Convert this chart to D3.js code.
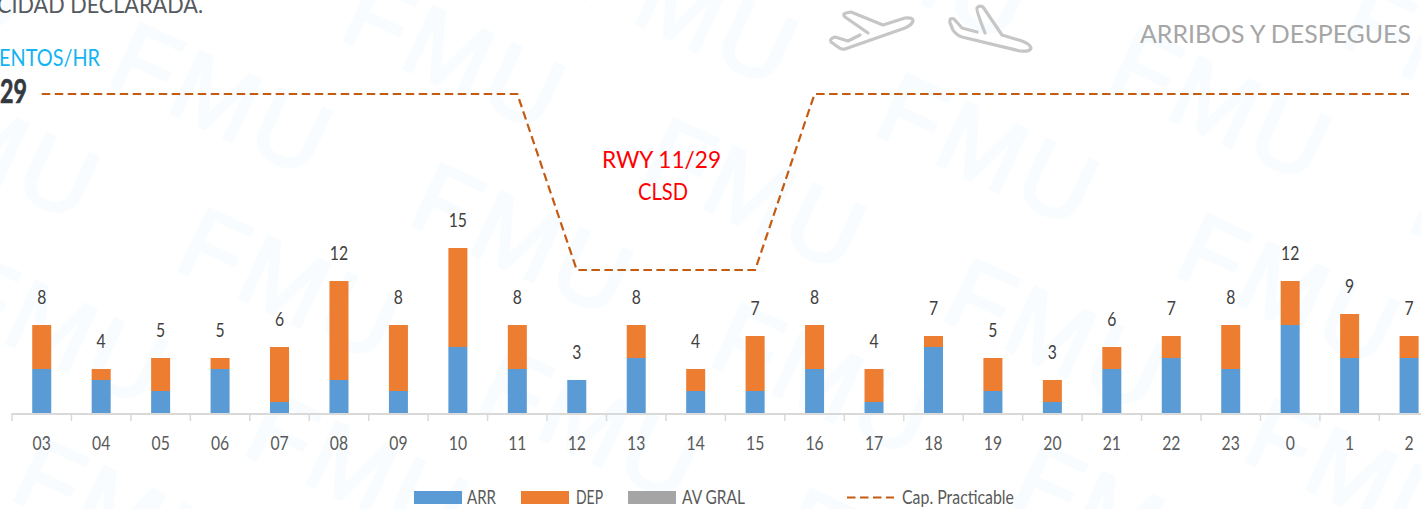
<!DOCTYPE html>
<html lang="en">
<head>
<meta charset="UTF-8"/>
<title>Arribos y despegues</title>
<script src="https://d3js.org/d3.v7.min.js"></script>
<style>
	html, body{ margin:0; padding:0; background:#fff; overflow:hidden; }
	svg{ display:block; }
	text{ font-family:Lato,"Open Sans",sans-serif; }
</style>
</head>
<body>
<script>
var hours = ["03","04","05","06","07","08","09","10","11","12","13","14","15","16","17","18","19","20","21","22","23","0","1","2"];
var arrivals = [4,3,2,4,1,3,2,6,4,3,5,2,2,4,1,6,2,1,4,5,4,8,5,5];
var departures = [4,1,3,1,5,9,6,9,4,0,3,2,5,4,3,1,3,2,2,2,4,4,4,2];
var capacity = [29,29,29,29,29,29,29,29,29,13,13,13,13,29,29,29,29,29,29,29,29,29,29,29];
var legendNames = ["ARR","DEP","AV GRAL"];

var w = 1421;
var h = 509;
var baseY = 413;

var svg = d3.select("body").append("svg").attr("width", w).attr("height", h);

// squeeze text sideways, the original is a stretched picture of Calibri
function fit(sel, width){
	sel.attr("lengthAdjust", "spacingAndGlyphs").attr("textLength", width);
}
function squeeze(sel, factor){
	sel.each(function(){
		d3.select(this).call(fit, this.getComputedTextLength() * factor);
	});
}

// faint FMU watermark, one tile repeated along a slanted lattice
var tileW = 332;
var tileH = 139;
var slant = 140 / 139;
var tile = svg.append("defs").append("pattern")
	.attr("id", "fmu")
	.attr("patternUnits", "userSpaceOnUse")
	.attr("width", tileW)
	.attr("height", tileH)
	.attr("patternTransform", "translate(104,82) rotate(25) matrix(1,0," + slant + ",1,0,0)");
for (var j = -1; j < 3; j++){
	for (var i = -2; i < 3; i++){
		tile.append("text")
			.attr("transform", "translate(" + (i * tileW) + "," + (j * tileH) + ") matrix(1,0," + (-slant) + ",1,0,0)")
			.attr("fill", "#f8fcfe")
			.attr("stroke", "#f8fcfe")
			.attr("stroke-width", 3)
			.attr("stroke-linejoin", "round")
			.attr("font-size", 100)
			.attr("letter-spacing", 5)
			.style("font-family", "'Liberation Sans'")
			.text("FMU");
	}
}
svg.append("rect").attr("width", w).attr("height", h).attr("fill", "url(#fmu)");

var x = d3.scaleBand().domain(hours).range([12, 12 + 24 * 59.45]);
var y = d3.scaleLinear().domain([0, 29]).range([baseY, 94]);
var barW = 19;

var rows = hours.map(function(d, i){
	return {hour:d, arr:arrivals[i], dep:departures[i], cap:capacity[i]};
});
var stacked = d3.stack().keys(["arr","dep"])(rows);
var colors = {arr:"#5b9bd5", dep:"#ed7d31"};

svg.selectAll("g.series")
	.data(stacked)
	.enter()
	.append("g")
	.attr("class", "series")
	.attr("fill", function(d){ return colors[d.key]; })
	.selectAll("rect")
	.data(function(d){ return d; })
	.enter()
	.append("rect")
	.attr("x", function(d){ return x(d.data.hour) + x.bandwidth()/2 - barW/2; })
	.attr("y", function(d){ return y(d[1]); })
	.attr("width", barW)
	.attr("height", function(d){ return y(d[0]) - y(d[1]); });

// axis
var axis = d3.axisBottom(x).tickSize(0).tickPadding(23);
var gx = svg.append("g").attr("transform", "translate(0," + (baseY + 0.5) + ")").call(axis);
gx.select(".domain").attr("stroke", "#d9d9d9").attr("stroke-width", 2);
gx.selectAll("text")
	.attr("font-size", 18.5)
	.attr("fill", "#595959")
	.style("font-family", "Lato")
	.call(squeeze, 0.85);
svg.append("g").selectAll("line")
	.data(hours)
	.enter()
	.append("line")
	.attr("x1", function(d){ return x(d); })
	.attr("x2", function(d){ return x(d); })
	.attr("y1", baseY)
	.attr("y2", baseY + 8)
	.attr("stroke", "#d9d9d9")
	.attr("stroke-width", 1.5);

// totals
svg.selectAll("text.total")
	.data(rows)
	.enter()
	.append("text")
	.attr("class", "total")
	.attr("x", function(d){ return x(d.hour) + x.bandwidth()/2; })
	.attr("y", function(d){ return y(d.arr + d.dep) - 21.5; })
	.attr("text-anchor", "middle")
	.attr("font-size", 18.5)
	.attr("fill", "#404040")
	.text(function(d){ return d.arr + d.dep; })
	.call(squeeze, 0.85);

// practicable capacity
var capLine = d3.line()
	.x(function(d){ return x(d.hour) + x.bandwidth()/2; })
	.y(function(d){ return y(d.cap); });
svg.append("path")
	.datum(rows)
	.attr("d", capLine)
	.attr("fill", "none")
	.attr("stroke", "#c55a11")
	.attr("stroke-width", 2.2)
	.attr("stroke-dasharray", "8.5 4.5");

// closure note
svg.append("text").attr("x", 602).attr("y", 168).attr("fill", "#ff0000")
	.attr("font-size", 23).text("RWY 11/29").call(fit, 119);
svg.append("text").attr("x", 638).attr("y", 200).attr("fill", "#ff0000")
	.attr("font-size", 23).text("CLSD").call(fit, 50);

// header texts
svg.append("text").attr("x", -3).attr("y", 13).attr("fill", "#555a60").attr("font-size", 23)
	.text("CIDAD DECLARADA.").call(fit, 206);
svg.append("text").attr("x", -1).attr("y", 65.5).attr("fill", "#14b4f2").attr("font-size", 23)
	.text("ENTOS/HR").call(fit, 101);
svg.append("text").attr("x", 0).attr("y", 103).attr("fill", "#33383f").attr("stroke", "#33383f").attr("stroke-width", 0.7)
	.attr("font-size", 33).style("font-weight", "bold").text("29").call(fit, 27);
svg.append("text").attr("x", 1140).attr("y", 43).attr("fill", "#a6a6a6").attr("font-size", 25)
	.text("ARRIBOS Y DESPEGUES").call(fit, 271);

// plane icons
var planes = svg.append("g").attr("fill", "none").attr("stroke", "#c6c6c6").attr("stroke-width", 3.2)
	.attr("stroke-linejoin", "round").attr("stroke-linecap", "round");
planes.append("path").attr("d", "M868,33 L845,17 Q842,14 846,13 L851,12 L883,25 L905,18 Q913,17 913,21 Q912,25 905,28 L845,49 Q842,50 838,47 L831,42 Q829,39 835,37 L848,41 L860,35");
planes.append("path").attr("d", "M977,32 L962,28 L954,19 Q949,17 950,23 L953,30 Q956,35 962,37 L1020,51 Q1030,52 1031,48 Q1030,44 1022,41 L1002,35 L983,7 Q979,5 977,8 Q976,10 985,33");

// legend
var legend = svg.append("g");
var legendFill = ["#5b9bd5", "#ed7d31", "#a5a5a5"];
var boxX = [414, 521, 628];
var labelX = [467, 576, 682];
var labelW = [29, 27, 63];
legendNames.forEach(function(d, i){
	legend.append("rect").attr("x", boxX[i]).attr("y", 491).attr("width", 48).attr("height", 13).attr("fill", legendFill[i]);
	legend.append("text").attr("x", labelX[i]).attr("y", 504).attr("font-size", 18.5).attr("fill", "#595959").text(d).call(fit, labelW[i]);
});
legend.append("line").attr("x1", 847).attr("x2", 894).attr("y1", 497.5).attr("y2", 497.5)
	.attr("stroke", "#c55a11").attr("stroke-width", 2.2).attr("stroke-dasharray", "8.5 4.5");
legend.append("text").attr("x", 902).attr("y", 504).attr("font-size", 18.5).attr("fill", "#595959").text("Cap. Practicable").call(fit, 112);
</script>
</body>
</html>
